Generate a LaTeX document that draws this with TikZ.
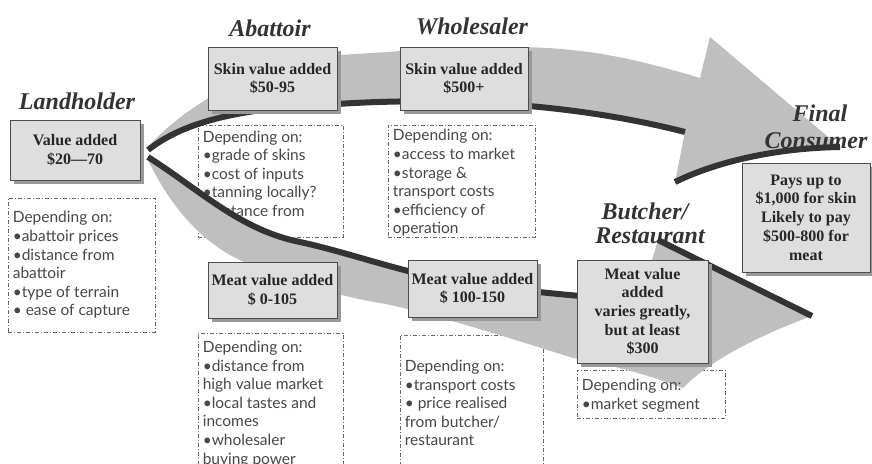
\documentclass[tikz,border=0pt]{standalone}
\usepackage{fontspec}
\setmainfont{Liberation Serif}
\newfontfamily\dfont{Lato}
\usetikzlibrary{shadows}
\begin{document}
\begin{tikzpicture}[x=1pt,y=-1pt,
 title/.style={font=\fontsize{24}{27}\selectfont\bfseries\itshape, text=black!80, inner sep=0pt},
 valbox/.style={draw=black!70, line width=0.8pt, fill=black!13, font=\fontsize{16}{18.7}\selectfont\bfseries, text=black!85, align=center, inner sep=0pt,
   drop shadow={shadow xshift=4pt, shadow yshift=-4pt, fill=black!40, opacity=1}},
 depbox/.style={draw=black!60, line width=0.8pt, dash pattern=on 4pt off 2pt on 1pt off 2pt},
 deptext/.style={font=\dfont\fontsize{15.5}{18.6}\selectfont, text=black!72, align=left, anchor=west, inner sep=0pt},
 band/.style={fill=black!25},
 darkedge/.style={draw=black!80, line width=6pt}
]
\useasboundingbox (0,0) rectangle (872,463);
\fill[white] (0,0) rectangle (872,463);

% dependency boxes
\node[depbox, minimum width=147pt, minimum height=134pt] (d1) at (81.5,265) {};
\node[depbox, minimum width=145pt, minimum height=112pt] (d2) at (270.5,181) {};
\node[depbox, minimum width=147pt, minimum height=112pt] (d3) at (461.5,181) {};
\node[depbox, minimum width=145pt, minimum height=140pt] (d4) at (270.5,403) {};
\node[depbox, minimum width=143pt, minimum height=136pt] (d5) at (471.5,403) {};
\node[depbox, minimum width=148pt, minimum height=48pt] (d6) at (651,394) {};

\node[deptext] (t1) at ([xshift=5pt]d1.west) {Depending on:\\•abattoir prices\\•distance from\\abattoir\\•type of terrain\\• ease of capture};
\node[deptext] (t2) at ([xshift=5pt,yshift=-2pt]d2.west) {Depending on:\\•grade of skins\\•cost of inputs\\•tanning locally?\\•distance from\\market};
\node[deptext] (t3) at ([xshift=5pt,yshift=-2pt]d3.west) {Depending on:\\•access to market\\•storage \&\\transport costs\\•efficiency of\\operation};
\node[deptext] (t4) at ([xshift=5pt,yshift=-1pt]d4.west) {Depending on:\\•distance from\\high value market\\•local tastes and\\incomes\\•wholesaler\\buying power};
\node[deptext] (t5) at ([xshift=5pt]d5.west) {Depending on:\\•transport costs\\• price realised\\from butcher/\\restaurant};

% upper (skin) arrow
\coordinate (us) at (148,150);
\fill[band] (us) .. controls (180,125) and (230,108) .. (337,104)
  .. controls (430,98) and (560,100) .. (685,132) -- (675,182)
  .. controls (720,160) and (780,148) .. (840,147) -- (710,37) -- (700,78)
  .. controls (640,60) and (590,48) .. (520,47)
  .. controls (440,47) and (380,53) .. (337,55)
  .. controls (270,58) and (190,100) .. (148,147) -- cycle;
\draw[darkedge] (us) .. controls (180,125) and (230,108) .. (337,104)
  .. controls (430,98) and (560,100) .. (685,132);
\draw[darkedge] (675,182) .. controls (720,160) and (780,148) .. (840,147);

% lower (meat) arrow
\coordinate (ls) at (148,157);
\fill[band] (ls) .. controls (200,190) and (240,230) .. (300,242)
  .. controls (360,255) and (420,280) .. (500,288)
  .. controls (540,292) and (580,297) .. (640,300) -- (658,240) -- (812,316)
  .. controls (760,335) and (710,360) .. (683,388)
  .. controls (640,372) and (610,365) .. (573,358)
  .. controls (500,335) and (420,310) .. (380,303)
  .. controls (330,295) and (260,272) .. (230,255)
  .. controls (190,232) and (165,195) .. (148,160) -- cycle;
\draw[darkedge] (ls) .. controls (200,190) and (240,230) .. (300,242)
  .. controls (360,255) and (420,280) .. (500,288)
  .. controls (540,292) and (580,297) .. (640,300);
\draw[darkedge] (658,240) -- (812,316);

\node[deptext] (t6) at ([xshift=5pt,yshift=-2pt]d6.west) {Depending on:\\•market segment};

% value boxes
\node[valbox, minimum width=130pt, minimum height=60pt] (land) at (75,150) {Value added\\\$20—70};
\node[valbox, minimum width=129pt, minimum height=63pt] (abs) at (272.5,78.5) {Skin value added\\\$50-95};
\node[valbox, minimum width=128pt, minimum height=63pt] (whs) at (464,78.5) {Skin value added\\\$500+};
\node[valbox, minimum width=129pt, minimum height=56pt] (mt1) at (272.5,290) {Meat value added\\\$ 0-105};
\node[valbox, minimum width=129pt, minimum height=57pt] (mt2) at (472.5,288.5) {Meat value added\\\$ 100-150};
\node[valbox, minimum width=131pt, minimum height=103pt] (but) at (642.5,311.5) {Meat value\\added\\varies greatly,\\but at least\\\$300};
\node[valbox, minimum width=128pt, minimum height=109pt] (fin) at (806,217.5) {Pays up to\\\$1,000 for skin\\Likely to pay\\\$500-800 for\\meat};

% titles
\node[title] (tl) at (77,101) {Landholder};
\node[title] (ta) at (270,28) {Abattoir};
\node[title] (tw) at (472,26) {Wholesaler};
\node[title] (tf1) at (820,113) {Final};
\node[title] (tf2) at (816,141) {Consumer};
\node[title] (tb1) at (645,211) {Butcher/};
\node[title] (tb2) at (650,236) {Restaurant};
\end{tikzpicture}
\end{document}
